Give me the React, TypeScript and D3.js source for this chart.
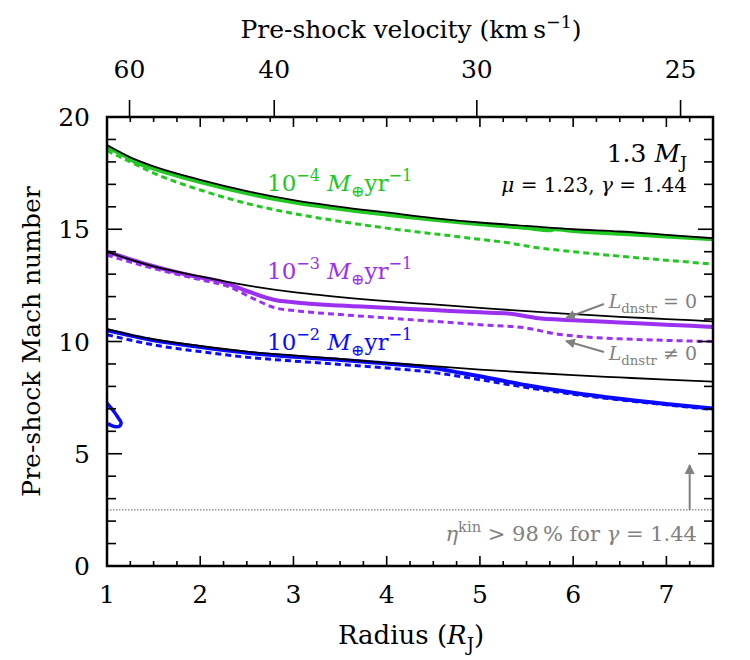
import React from 'react';
import * as d3 from 'd3';

// radius grid (R_J) for the analytic (black) curves
const radiusGrid = [1, 1.25, 1.5, 2, 2.5, 3, 3.5, 4, 4.5, 5, 5.5, 6, 6.5, 7, 7.5];
const greenRef = [18.75, 18.2, 17.8, 17.2, 16.7, 16.3, 16.0, 15.75, 15.5, 15.3, 15.15, 15.0, 14.9, 14.75, 14.6];
const purpleRef = [14.0, 13.65, 13.35, 12.9, 12.5, 12.2, 11.98, 11.8, 11.65, 11.5, 11.35, 11.22, 11.1, 11.0, 10.9];
const blueRef = [10.55, 10.3, 10.1, 9.8, 9.55, 9.38, 9.22, 9.05, 8.9, 8.75, 8.62, 8.5, 8.4, 8.3, 8.21];

// 1e-4 Mearth/yr
const greenSolidR = [1, 1.2, 1.3, 1.5, 2, 2.5, 3, 3.5, 4, 4.5, 5, 5.5, 5.75, 5.8, 6, 6.5, 7, 7.5];
const greenSolidM = [18.65, 18.25, 18.0, 17.7, 17.1, 16.6, 16.2, 15.9, 15.65, 15.42, 15.22, 15.05, 14.95, 15.0, 14.92, 14.8, 14.68, 14.55];
const greenDashR = [1, 1.25, 1.5, 2, 2.5, 3, 3.5, 4, 4.5, 5, 5.3, 5.5, 6, 6.5, 7, 7.5];
const greenDashM = [18.5, 18.0, 17.5, 16.75, 16.15, 15.7, 15.35, 15.05, 14.8, 14.55, 14.4, 14.25, 14.0, 13.8, 13.62, 13.45];

// 1e-3 Mearth/yr
const purpleSolidR = [1, 1.5, 2, 2.2, 2.5, 2.8, 3, 3.5, 4, 4.5, 5, 5.3, 5.6, 6, 6.5, 7, 7.5];
const purpleSolidM = [14.0, 13.35, 12.85, 12.7, 12.25, 11.85, 11.75, 11.6, 11.5, 11.4, 11.3, 11.25, 11.05, 10.95, 10.85, 10.75, 10.65];
const purpleDashR = [1, 1.5, 2, 2.3, 2.6, 2.8, 3, 3.5, 4, 4.5, 5, 5.5, 5.8, 6, 6.5, 7, 7.5];
const purpleDashM = [13.85, 13.25, 12.75, 12.45, 11.85, 11.5, 11.38, 11.2, 11.05, 10.9, 10.75, 10.6, 10.35, 10.25, 10.12, 10.05, 10.0];

// 1e-2 Mearth/yr
const blueSolidR = [1, 1.5, 2, 2.5, 3, 3.5, 4, 4.5, 4.8, 5, 5.5, 6, 6.5, 7, 7.5];
const blueSolidM = [10.5, 10.05, 9.75, 9.5, 9.32, 9.18, 9.02, 8.82, 8.6, 8.45, 8.05, 7.72, 7.45, 7.22, 7.02];
const blueDashR = [1, 1.5, 2, 2.5, 3, 3.5, 4, 4.5, 5, 5.5, 6, 6.5, 7, 7.5];
const blueDashM = [10.3, 9.85, 9.55, 9.3, 9.13, 8.98, 8.82, 8.62, 8.3, 7.95, 7.65, 7.4, 7.18, 6.97];
// small excursion near the surface
const blueLoopR = [1.0, 1.04, 1.08, 1.12, 1.15, 1.14, 1.1, 1.05, 1.01];
const blueLoopM = [7.25, 7.05, 6.85, 6.6, 6.4, 6.25, 6.2, 6.25, 6.35];

const velocityTicks = [60, 40, 30, 25];
const radiusTicks = [1, 2, 3, 4, 5, 6, 7];
const machTicks = [0, 5, 10, 15, 20];
const machLimit = 2.5;

const GREEN = '#22c822';
const PURPLE = '#9b30f0';
const BLUE = '#0a0aff';
const GREY = '#808080';

const left = 107, right = 713, top = 117, bottom = 566;
const x = d3.scaleLinear().domain([1, 7.5]).range([left, right]);
const y = d3.scaleLinear().domain([0, 20]).range([bottom, top]);
// free-fall velocity v = sqrt(K2 / r) for the top axis
const K2 = 4470;
const vx = (v: number) => x(K2 / (v * v));

const line = d3.line<[number, number]>()
  .curve(d3.curveMonotoneX)
  .x(d => x(d[0]))
  .y(d => y(d[1]));
const loopLine = d3.line<[number, number]>()
  .curve(d3.curveCatmullRom)
  .x(d => x(d[0]))
  .y(d => y(d[1]));
const zip = (r: number[], m: number[]) => r.map((v, i) => [v, m[i]] as [number, number]);

type Part = [string, string?];

// text with super/subscripts as tspans
function Rich({ x, y, parts, size, color = '#000', anchor = 'start' }:
  { x: number; y: number; parts: Part[]; size: number; color?: string; anchor?: string }) {
  let shift = 0;
  return (
    <text x={x} y={y} fill={color} textAnchor={anchor as any} fontSize={size}>
      {parts.map(([s, kind], i) => {
        let target = 0;
        if (kind === 'sup') target = -0.42 * size;
        if (kind === 'sub') target = 0.25 * size;
        const dy = target - shift;
        shift = target;
        const small = kind === 'sup' || kind === 'sub';
        return (
          <tspan key={i} dy={dy} fontSize={small ? size * 0.7 : undefined}
            fontStyle={kind === 'it' ? 'italic' : undefined}>
            {s}
          </tspan>
        );
      })}
    </text>
  );
}

const series = [
  { d: zip(greenDashR, greenDashM), c: GREEN, w: 3, dash: '6,4' },
  { d: zip(purpleDashR, purpleDashM), c: PURPLE, w: 3, dash: '6,4' },
  { d: zip(blueDashR, blueDashM), c: BLUE, w: 3, dash: '6,4' },
  { d: zip(greenSolidR, greenSolidM), c: GREEN, w: 4, dash: undefined },
  { d: zip(purpleSolidR, purpleSolidM), c: PURPLE, w: 4, dash: undefined },
  { d: zip(blueSolidR, blueSolidM), c: BLUE, w: 4, dash: undefined },
  { d: zip(radiusGrid, greenRef), c: '#000', w: 1.8, dash: undefined },
  { d: zip(radiusGrid, purpleRef), c: '#000', w: 1.8, dash: undefined },
  { d: zip(radiusGrid, blueRef), c: '#000', w: 1.8, dash: undefined },
];

export default function App() {
  const minorR = d3.range(1, 7.51, 0.25).filter(v => Math.abs(v - Math.round(v)) > 0.01);
  const minorM = d3.range(0, 21, 1).filter(v => v % 5 !== 0);
  const tick = { stroke: '#000', strokeWidth: 1.6 };

  const rate = (yy: number, exp: string, c: string) => (
    <Rich x={267} y={yy} size={23} color={c}
      parts={[['10'], ['\u2212' + exp, 'sup'], [' M', 'it'], ['\u2295', 'sub'], ['yr'], ['\u22121', 'sup']]} />
  );

  return (
    <svg width={750} height={660} style={{ position: 'absolute', left: 0, top: 0 }}>
      <style>{'text { font-family: "DejaVu Serif", "Liberation Serif", serif; }'}</style>
      <defs>
        <clipPath id="plotclip">
          <rect x={left} y={top} width={right - left} height={bottom - top} />
        </clipPath>
        <marker id="head" viewBox="0 0 10 10" refX={9} refY={5} markerWidth={5} markerHeight={5} orient="auto">
          <path d="M0,0 L10,5 L0,10 Z" fill={GREY} />
        </marker>
      </defs>

      <g clipPath="url(#plotclip)">
        <line x1={left} x2={right} y1={y(machLimit)} y2={y(machLimit)}
          stroke={GREY} strokeWidth={1.2} strokeDasharray="1.5,1.5" />
        {series.map((s, i) => (
          <path key={i} d={line(s.d) || ''} fill="none" stroke={s.c} strokeWidth={s.w} strokeDasharray={s.dash} />
        ))}
        <path d={loopLine(zip(blueLoopR, blueLoopM)) || ''} fill="none" stroke={BLUE} strokeWidth={3.5} />
      </g>

      {/* radius ticks, bottom and top, pointing inward */}
      {minorR.map(r => (
        <g key={'mr' + r}>
          <line x1={x(r)} x2={x(r)} y1={bottom} y2={bottom - 5} {...tick} />
          <line x1={x(r)} x2={x(r)} y1={top} y2={top + 5} {...tick} />
        </g>
      ))}
      {radiusTicks.map(r => (
        <g key={'r' + r}>
          <line x1={x(r)} x2={x(r)} y1={bottom} y2={bottom - 10} {...tick} />
          <line x1={x(r)} x2={x(r)} y1={top} y2={top + 10} {...tick} />
          <text x={x(r)} y={bottom + 37} textAnchor="middle" fontSize={25}>{r}</text>
        </g>
      ))}
      {/* velocity ticks point outward */}
      {velocityTicks.map(v => (
        <g key={'v' + v}>
          <line x1={vx(v)} x2={vx(v)} y1={top} y2={top - 17} {...tick} />
          <text x={vx(v)} y={top - 39} textAnchor="middle" fontSize={25}>{v}</text>
        </g>
      ))}
      {minorM.map(m => (
        <g key={'mm' + m}>
          <line x1={left} x2={left + 9} y1={y(m)} y2={y(m)} {...tick} />
          <line x1={right} x2={right - 9} y1={y(m)} y2={y(m)} {...tick} />
        </g>
      ))}
      {machTicks.map(m => (
        <g key={'m' + m}>
          <line x1={left} x2={left + 15} y1={y(m)} y2={y(m)} {...tick} />
          <line x1={right} x2={right - 15} y1={y(m)} y2={y(m)} {...tick} />
          <text x={left - 17} y={y(m) + 9} textAnchor="end" fontSize={25}>{m}</text>
        </g>
      ))}

      <rect x={left} y={top} width={right - left} height={bottom - top} fill="none" stroke="#000" strokeWidth={2.5} />

      <Rich x={411} y={644} size={26} anchor="middle" parts={[['Radius ('], ['R', 'it'], ['J', 'sub'], [')']]} />
      <Rich x={411} y={38} size={25} anchor="middle" parts={[['Pre-shock velocity (km\u2009s'], ['\u22121', 'sup'], [')']]} />
      <text transform={`translate(40,${(top + bottom) / 2}) rotate(-90)`} textAnchor="middle"
        fontSize={25}>Pre-shock Mach number</text>

      {rate(191, '4', GREEN)}
      {rate(279, '3', PURPLE)}
      {rate(350, '2', BLUE)}

      <Rich x={687} y={162} size={25} anchor="end" parts={[['1.3 '], ['M', 'it'], ['J', 'sub']]} />
      <Rich x={687} y={192} size={20} anchor="end"
        parts={[['\u03bc', 'it'], [' = 1.23, '], ['\u03b3', 'it'], [' = 1.44']]} />

      <Rich x={697} y={308} size={19} color={GREY} anchor="end" parts={[['L', 'it'], ['dnstr', 'sub'], [' = 0']]} />
      <Rich x={697} y={360} size={19} color={GREY} anchor="end" parts={[['L', 'it'], ['dnstr', 'sub'], [' \u2260 0']]} />
      <Rich x={697} y={541} size={21} color={GREY} anchor="end"
        parts={[['\u03b7', 'it'], ['kin', 'sup'], [' > 98\u2009% for '], ['\u03b3', 'it'], [' = 1.44']]} />

      <line x1={604} y1={304} x2={566} y2={318} stroke={GREY} strokeWidth={2} markerEnd="url(#head)" />
      <line x1={604} y1={352} x2={566} y2={341} stroke={GREY} strokeWidth={2} markerEnd="url(#head)" />
      <line x1={x(7.25)} y1={y(machLimit)} x2={x(7.25)} y2={y(4.5)} stroke={GREY} strokeWidth={2} markerEnd="url(#head)" />
    </svg>
  );
}
